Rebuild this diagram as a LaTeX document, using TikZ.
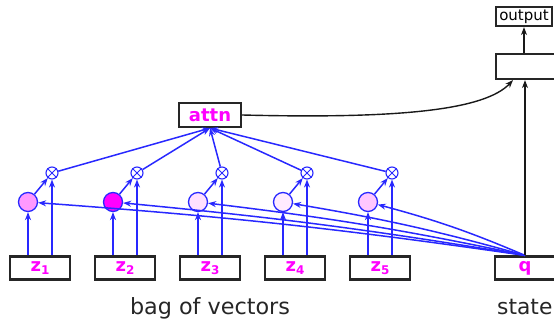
\documentclass[tikz,border=0pt]{standalone}
\usepackage{fontspec}
\setmainfont{DejaVu Sans}
\usetikzlibrary{arrows.meta,calc}
\definecolor{lnblue}{RGB}{40,40,255}
\definecolor{mag}{RGB}{255,0,255}

\begin{document}
\begin{tikzpicture}[x=1pt,y=1pt,
  vecbox/.style={draw=black!85, line width=2.2pt, fill=white, minimum width=60pt,
    minimum height=23pt, inner sep=0pt, font=\fontsize{18}{18}\selectfont\bfseries, text=mag},
  plainbox/.style={draw=black!85, line width=2.2pt, fill=white, inner sep=0pt},
  wt/.style={circle, draw=lnblue, line width=1.3pt, minimum size=19pt, inner sep=0pt},
  mul/.style={circle, draw=lnblue, line width=1.1pt, minimum size=12pt, inner sep=0pt},
  bl/.style={draw=lnblue, line width=1.5pt, -{Stealth[length=8pt,width=6pt]}},
  bk/.style={draw=black!90, line width=1.4pt, -{Stealth[length=8pt,width=6pt]}},
  caption/.style={text=black!85, inner sep=0pt},
]
\useasboundingbox (0,0) rectangle (554,320);

% state vector and the controller boxes above it
\node[vecbox] (q) at (525,52) {q};
\node[plainbox, minimum width=60pt, minimum height=25pt] (mid) at (526,253.5) {};
\node[plainbox, minimum width=56pt, minimum height=19pt,
      font=\fontsize{15}{15}\selectfont] (out) at (524,303.5) {output};

% attention summary
\node[vecbox, minimum width=62pt, minimum height=24pt] (attn) at (210,205) {attn};

% bag of vectors with weights and products
\foreach \i/\f in {1/mag!40, 2/mag, 3/mag!12, 4/mag!8, 5/mag!22} {
  \pgfmathsetmacro\xc{40+85*(\i-1)}
  \node[vecbox] (z\i) at (\xc,52) {z\raisebox{-3.5pt}{\fontsize{12}{12}\selectfont\i}};
  \node[wt, fill=\f] (c\i) at (\xc-12,118) {};
  \node[mul] (o\i) at (\xc+12,147) {};
  \draw[lnblue, line width=0.9pt] (o\i.north west) -- (o\i.south east)
                                  (o\i.north east) -- (o\i.south west);
}

% score curves from the state to each weight
\foreach \i/\b in {1/2, 2/2, 3/2.5, 4/3, 5/4} {
  \draw[bl] (q.north) to[bend right=\b] (c\i);
}

% vector flow into weights and products
\foreach \i in {1,...,5} {
  \draw[bl] (c\i |- z\i.north) -- (c\i);
  \draw[bl] (o\i |- z\i.north) -- (o\i);
  \draw[bl] (c\i) -- (o\i);
  \draw[bl] (o\i) -- (attn.south);
}

% controller connections
\draw[bk] (q.north) -- (q.north |- mid.south);
\draw[bk] (attn.east) .. controls (400,201) and (485,210) .. ($(mid.south)+(-13,0)$);
\draw[bk] (mid.north -| out.south) -- (out.south);

% captions
\node[caption, anchor=base, font=\fontsize{22.3}{22.3}\selectfont] (bagcap) at (210,5.5) {bag of vectors};
\node[caption, anchor=base west, font=\fontsize{21.8}{21.8}\selectfont] (statecap) at (497,5.5) {state};
\end{tikzpicture}
\end{document}
